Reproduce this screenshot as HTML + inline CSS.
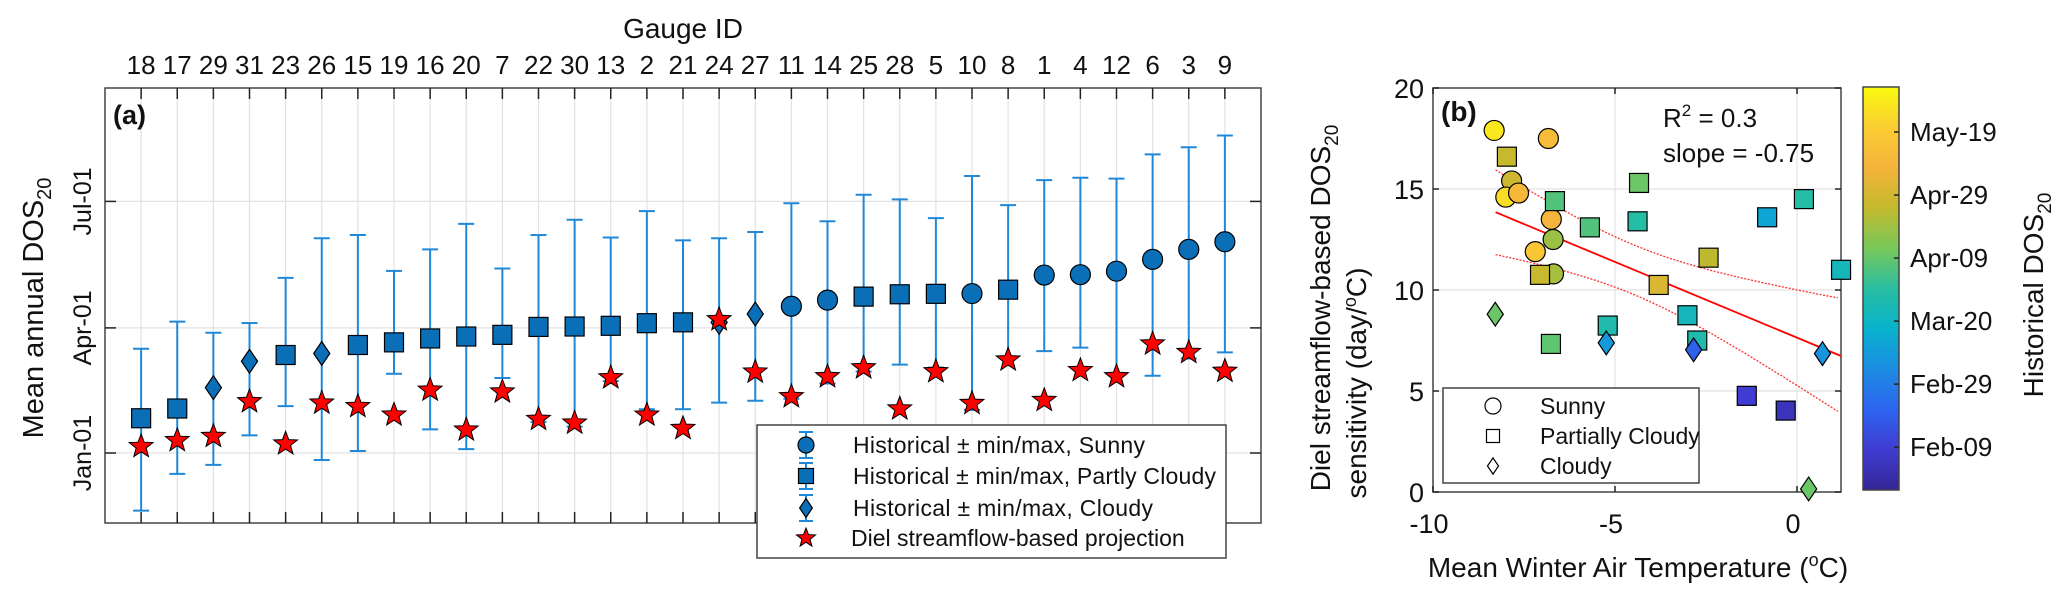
<!DOCTYPE html>
<html><head><meta charset="utf-8"><title>DOS20 chart</title>
<style>
html,body{margin:0;padding:0;background:#fff;}
svg{display:block;font-family:"Liberation Sans",Arial,sans-serif;}
</style></head>
<body>
<svg id="fig" width="2067" height="603" viewBox="0 0 2067 603" xmlns="http://www.w3.org/2000/svg">
  <rect x="0" y="0" width="2067" height="603" fill="#fff"/>
  <g id="pa"></g>
  <g id="pb"></g>
</svg>
<script>
// ---------- Panel (a) data ----------
const gauges = [18,17,29,31,23,26,15,19,16,20,7,22,30,13,2,21,24,27,11,14,25,28,5,10,8,1,4,12,6,3,9];
const skyType = ['p','p','c','c','p','c','p','p','p','p','p','p','p','p','p','p','c','c','s','s','p','p','p','s','p','s','s','s','s','s','s'];
const histMean = [25,32,47,66,70.5,71.6,77.7,79.6,82.4,83.8,85,90.7,91,91.5,93.4,94,94,100,105.6,110,112.5,114.2,114.5,114.7,117.5,128,128.3,130.8,139.3,146.5,152];
const histMax = [75,94.5,86.5,93.5,126,154.5,156.8,131,146.5,164.8,132.7,156.8,167.8,155,174,153,154.5,159,179.7,166.7,185.8,182.5,169,199.3,178.3,196.3,198,197.4,214.8,220,228.4];
const histMin = [-41.5,-15,-8.5,12.7,33.7,-5,1.4,57,17,2.8,54,22.4,19,51.7,31.5,31.5,36.2,37.6,39,50,58.6,63.6,61.4,31,68,73.3,75.8,57,55.6,68,72.4];
const projection = [4.7,9,12,37,6.6,36,33.5,27.4,45.3,16.6,44,24.3,21.6,54.2,27.4,17.7,96,58.3,40.6,55,61.4,31.8,58.6,35.7,67,37.9,59.4,55,78.5,72.4,58.9];
const yTickDays = [0,90,181];
const yTickLabels = ['Jan-01','Apr-01','Jul-01'];

// ---------- Panel (b) data ----------
const bTemp = [-8.32,-6.83,-7.84,-8.0,-7.65,-6.75,-6.7,-7.19,-6.69,
  -7.97,-6.65,-4.34,-5.69,-4.38,-0.82,0.19,-2.43,-7.06,-3.8,1.21,-3.01,-5.2,-2.74,-6.76,-1.38,-0.31,
  -8.29,-5.24,-2.84,0.7,0.32];
const bSens = [17.9,17.5,15.4,14.6,14.8,13.5,12.5,11.9,10.8,
  16.6,14.4,15.3,13.1,13.4,13.6,14.5,11.6,10.75,10.25,11.0,8.75,8.24,7.5,7.33,4.76,4.03,
  8.8,7.38,7.04,6.85,0.15];
const bDay = [148,132,118,145,130,128,108,137,110,
  116,96,100,96,88,72,88,114,116,120,82,82,86,86,98,38,33,
  100,68,50,66,100];
const bType = ['s','s','s','s','s','s','s','s','s',
  'p','p','p','p','p','p','p','p','p','p','p','p','p','p','p','p','p',
  'c','c','c','c','c'];
const fitSlope = [-0.75];
const fitIntercept = [7.64];
const bandParams = [1.51, 0.202, -4.5]; // a, b, center
const cbTickDays = [39,59,79,99,119,139];
const cbTickLabels = ['Feb-09','Feb-29','Mar-20','Apr-09','Apr-29','May-19'];
const bXTicks = [-10,-5,0];
const bYTicks = [0,5,10,15,20];

const NS='http://www.w3.org/2000/svg';
function mk(tag, attrs, parent){const e=document.createElementNS(NS,tag);for(const k in attrs)e.setAttribute(k,attrs[k]);parent.appendChild(e);return e;}
function starPath(cx,cy,R){const r=R*0.42;let d='';for(let i=0;i<10;i++){const a=-Math.PI/2+i*Math.PI/5;const rr=i%2?r:R;d+=(i?'L':'M')+(cx+rr*Math.cos(a)).toFixed(1)+','+(cy+rr*Math.sin(a)).toFixed(1);}return d+'Z';}
function diamondPath(cx,cy,w,h){return `M${cx},${cy-h}L${cx+w},${cy}L${cx},${cy+h}L${cx-w},${cy}Z`;}
function marker(type,cx,cy,fill,parent,sz){
  let e;
  if(type==='s'){e=mk('circle',{cx:cx,cy:cy,r:sz,fill:fill,stroke:'#000','stroke-width':1.2},parent);}
  else if(type==='p'){e=mk('rect',{x:cx-sz,y:cy-sz,width:2*sz,height:2*sz,fill:fill,stroke:'#000','stroke-width':1.2},parent);}
  else {e=mk('path',{d:diamondPath(cx,cy,sz*0.85,sz*1.25),fill:fill,stroke:'#000','stroke-width':1.2},parent);}
  return e;
}

// ---------- Panel (a) ----------
const pa=document.getElementById('pa');
const A={l:105,r:1261,t:88,b:523};
const xA=i=>A.l+(i+1)*(A.r-A.l)/32;
const yA=d=>453-d*1.39;
const errColor='#1f88d8', mFill='#0b6fb8';

gauges.forEach((g,i)=>{const l=mk('line',{x1:xA(i),x2:xA(i),y1:A.t,y2:A.b,stroke:'#e2e2e2','stroke-width':1.2},pa);

});
yTickDays.forEach(d=>{const l=mk('line',{x1:A.l,x2:A.r,y1:yA(d),y2:yA(d),stroke:'#e2e2e2','stroke-width':1.2},pa);

});
let box=mk('rect',{x:A.l,y:A.t,width:A.r-A.l,height:A.b-A.t,fill:'none',stroke:'#444','stroke-width':1.5},pa);


gauges.forEach((g,i)=>{
  const x=xA(i);
  const t1=mk('line',{x1:x,x2:x,y1:A.t,y2:A.t+11,stroke:'#222','stroke-width':1.5},pa);
  
  
  const t2=mk('line',{x1:x,x2:x,y1:A.b,y2:A.b-11,stroke:'#222','stroke-width':1.5},pa);
  
  
  const tx=mk('text',{x:x,y:74,'font-size':26,'text-anchor':'middle',fill:'#111'},pa);
  tx.textContent=g;
  
  
});
yTickDays.forEach((d,k)=>{
  const y=yA(d);
  const t1=mk('line',{x1:A.l,x2:A.l+11,y1:y,y2:y,stroke:'#222','stroke-width':1.5},pa);
  
  
  const t2=mk('line',{x1:A.r,x2:A.r-11,y1:y,y2:y,stroke:'#222','stroke-width':1.5},pa);
  
  
  const tx=mk('text',{x:0,y:0,'font-size':25,'text-anchor':'middle',fill:'#111',transform:`translate(91,${y}) rotate(-90)`},pa);
  tx.textContent=yTickLabels[k];
  
  
});
let gt=mk('text',{x:683,y:38,'font-size':28,'text-anchor':'middle',fill:'#111'},pa);
gt.textContent='Gauge ID';


let yt=mk('text',{x:0,y:0,'font-size':29,'text-anchor':'middle',fill:'#111',transform:'translate(43,308) rotate(-90)'},pa);
yt.innerHTML='Mean annual DOS<tspan font-size="20" dy="8">20</tspan>';


let la=mk('text',{x:113,y:124,'font-size':27,'font-weight':'bold',fill:'#111'},pa);
la.textContent='(a)';


gauges.forEach((g,i)=>{
  const x=xA(i);
  const eg=mk('g',{stroke:errColor,'stroke-width':2},pa);
  
  
  mk('line',{x1:x,x2:x,y1:yA(histMax[i]),y2:yA(histMin[i])},eg);
  mk('line',{x1:x-8,x2:x+8,y1:yA(histMax[i]),y2:yA(histMax[i])},eg);
  mk('line',{x1:x-8,x2:x+8,y1:yA(histMin[i]),y2:yA(histMin[i])},eg);
});
gauges.forEach((g,i)=>{
  const m=marker(skyType[i],xA(i),yA(histMean[i]),mFill,pa,skyType[i]==='s'?10:9.5);
  
  
});
gauges.forEach((g,i)=>{
  const s=mk('path',{d:starPath(xA(i),yA(projection[i]),12.5),fill:'#ff0000',stroke:'#000','stroke-width':1},pa);
  
  
});
const lg=mk('g',{},pa);


mk('rect',{x:757,y:425,width:469,height:133,fill:'#fff',stroke:'#444','stroke-width':1.5},lg);
const legTxt=['Historical \u00B1 min/max, Sunny','Historical \u00B1 min/max, Partly Cloudy','Historical \u00B1 min/max, Cloudy','Diel streamflow-based projection'];
const legType=['s','p','c','star'];
const legY=[445,476,508,538];
legTxt.forEach((t,k)=>{
  const y=legY[k], x=806;
  const eg=mk('g',{},lg);
  
  
  if(legType[k]==='star'){mk('path',{d:starPath(x,y,10),fill:'#ff0000',stroke:'#000','stroke-width':1},eg);}
  else{
    const g2=mk('g',{stroke:errColor,'stroke-width':2},eg);
    mk('line',{x1:x,x2:x,y1:y-13,y2:y+13},g2);
    mk('line',{x1:x-7,x2:x+7,y1:y-13,y2:y-13},g2);
    mk('line',{x1:x-7,x2:x+7,y1:y+13,y2:y+13},g2);
    marker(legType[k],x,y,mFill,eg,legType[k]==='s'?8:7.5);
  }
  const tx=mk('text',{x:k===3?851:853,y:y+8,'font-size':23,fill:'#111'},eg);
  if(k<3){tx.setAttribute('textLength',k===1?363:(k===0?292:300));}
  tx.textContent=t;
});

// ---------- Panel (b) ----------
const pb=document.getElementById('pb');
const B={l:1433,r:1841,t:88,b:492};
const xB=v=>1797+v*36.4;
const yB=v=>492-v*20.2;
const parula=[[52,38,150],[64,60,210],[45,100,240],[28,140,225],[8,178,205],[40,190,160],[120,200,90],[195,185,45],[245,180,60],[250,205,50],[249,251,14]];
const dMin=25.4, dMax=153.3;
function pcol(d){let t=(d-dMin)/(dMax-dMin);t=Math.max(0,Math.min(1,t))*10;const i=Math.min(9,Math.floor(t)),f=t-i;const a=parula[i],b=parula[i+1];return `rgb(${a.map((v,j)=>Math.round(v+(b[j]-v)*f)).join(',')})`;}

bXTicks.forEach(v=>{const l=mk('line',{x1:xB(v),x2:xB(v),y1:B.t,y2:B.b,stroke:'#e2e2e2','stroke-width':1.2},pb);

});
bYTicks.forEach(v=>{const l=mk('line',{x1:B.l,x2:B.r,y1:yB(v),y2:yB(v),stroke:'#e2e2e2','stroke-width':1.2},pb);

});
let bb=mk('rect',{x:B.l,y:B.t,width:B.r-B.l,height:B.b-B.t,fill:'none',stroke:'#444','stroke-width':1.5},pb);


bXTicks.forEach(v=>{
  const t=mk('line',{x1:xB(v),x2:xB(v),y1:B.b,y2:B.b-6,stroke:'#222','stroke-width':1.5},pb);
  
  
  const t2=mk('line',{x1:xB(v),x2:xB(v),y1:B.t,y2:B.t+6,stroke:'#222','stroke-width':1.5},pb);
  
  
  const tx=mk('text',{x:xB(v)-4,y:533,'font-size':27,'text-anchor':'middle',fill:'#111'},pb);
  tx.textContent=v;
  
  
});
bYTicks.forEach(v=>{
  const t=mk('line',{x1:B.l,x2:B.l+6,y1:yB(v),y2:yB(v),stroke:'#222','stroke-width':1.5},pb);
  
  
  const t2=mk('line',{x1:B.r,x2:B.r-6,y1:yB(v),y2:yB(v),stroke:'#222','stroke-width':1.5},pb);
  
  
  const tx=mk('text',{x:1424,y:yB(v)+10,'font-size':27,'text-anchor':'end',fill:'#111'},pb);
  tx.textContent=v;
  
  
});
const xs=[];for(let v=-8.28;v<=1.215;v+=0.1)xs.push(v);
const fitY=v=>fitIntercept[0]+fitSlope[0]*v;
const band=v=>Math.sqrt(bandParams[0]+bandParams[1]*(v-bandParams[2])**2);
let fl=mk('line',{x1:xB(-8.28),y1:yB(fitY(-8.28)),x2:xB(1.21),y2:yB(fitY(1.21)),stroke:'#ff0000','stroke-width':1.8},pb);


let up=mk('polyline',{points:xs.map(v=>xB(v).toFixed(1)+','+yB(fitY(v)+band(v)).toFixed(1)).join(' '),fill:'none',stroke:'#ff3030','stroke-width':1.3,'stroke-dasharray':'2,1.5'},pb);


let lo=mk('polyline',{points:xs.map(v=>xB(v).toFixed(1)+','+yB(fitY(v)-band(v)).toFixed(1)).join(' '),fill:'none',stroke:'#ff3030','stroke-width':1.3,'stroke-dasharray':'2,1.5'},pb);


bTemp.forEach((v,i)=>{
  const m=marker(bType[i],xB(v),yB(bSens[i]),pcol(bDay[i]),pb,bType[i]==='s'?10:9.5);
  
  
});
let lb=mk('text',{x:1441,y:121,'font-size':28,'font-weight':'bold',fill:'#111'},pb);
lb.textContent='(b)';


let r2=mk('text',{x:1663,y:127,'font-size':26,fill:'#111'},pb);
r2.innerHTML='R<tspan font-size="17" dy="-11">2</tspan><tspan dy="11"> = 0.3</tspan>';


let sl=mk('text',{x:1663,y:162,'font-size':26,fill:'#111'},pb);
sl.textContent='slope = -0.75';


let xt=mk('text',{x:1638,y:577,'font-size':28,'text-anchor':'middle',fill:'#111'},pb);
xt.innerHTML='Mean Winter Air Temperature (<tspan font-size="18" dy="-11">o</tspan><tspan dy="11">C)</tspan>';


let y1=mk('text',{x:0,y:0,'font-size':28,'text-anchor':'middle',fill:'#111',transform:'translate(1330,308) rotate(-90)'},pb);
y1.innerHTML='Diel streamflow-based DOS<tspan font-size="19" dy="8">20</tspan>';


let y2=mk('text',{x:0,y:0,'font-size':28,'text-anchor':'middle',fill:'#111',transform:'translate(1366,383) rotate(-90)'},pb);
y2.innerHTML='sensitivity (day/<tspan font-size="18" dy="-10">o</tspan><tspan dy="10">C)</tspan>';


const lgb=mk('g',{},pb);


mk('rect',{x:1443,y:388,width:256,height:95,fill:'#fff',stroke:'#444','stroke-width':1.5},lgb);
const lbTxt=['Sunny','Partially Cloudy','Cloudy'],lbType=['s','p','c'],lbY=[406,436,466];
lbTxt.forEach((t,k)=>{
  const eg=mk('g',{},lgb);
  
  
  marker(lbType[k],1493,lbY[k],'#fff',eg,lbType[k]==='s'?8:6.5);
  const tx=mk('text',{x:1540,y:lbY[k]+8,'font-size':23,fill:'#111'},eg);
  tx.textContent=t;
});
const CB={l:1863,r:1899,t:87,b:490};
const yC=d=>CB.b-(d-dMin)/(dMax-dMin)*(CB.b-CB.t);
const defs=mk('defs',{},pb);
const grad=mk('linearGradient',{id:'parula',x1:0,y1:1,x2:0,y2:0},defs);
parula.forEach((c,i)=>mk('stop',{offset:(i/10).toFixed(3),'stop-color':`rgb(${c.join(',')})`},grad));
let cb=mk('rect',{x:CB.l,y:CB.t,width:CB.r-CB.l,height:CB.b-CB.t,fill:'url(#parula)',stroke:'#444','stroke-width':1.5},pb);


cbTickDays.forEach((d,k)=>{
  const y=yC(d);
  const t=mk('line',{x1:CB.r,x2:CB.r-5,y1:y,y2:y,stroke:'#222','stroke-width':1.5},pb);
  
  
  const tx=mk('text',{x:1910,y:y+9,'font-size':26,fill:'#111'},pb);
  tx.textContent=cbTickLabels[k];
  
  
});
let ct=mk('text',{x:0,y:0,'font-size':28,'text-anchor':'middle',fill:'#111',transform:'translate(2043,295) rotate(-90)'},pb);
ct.innerHTML='Historical DOS<tspan font-size="19" dy="8">20</tspan>';


</script>
</body></html>
